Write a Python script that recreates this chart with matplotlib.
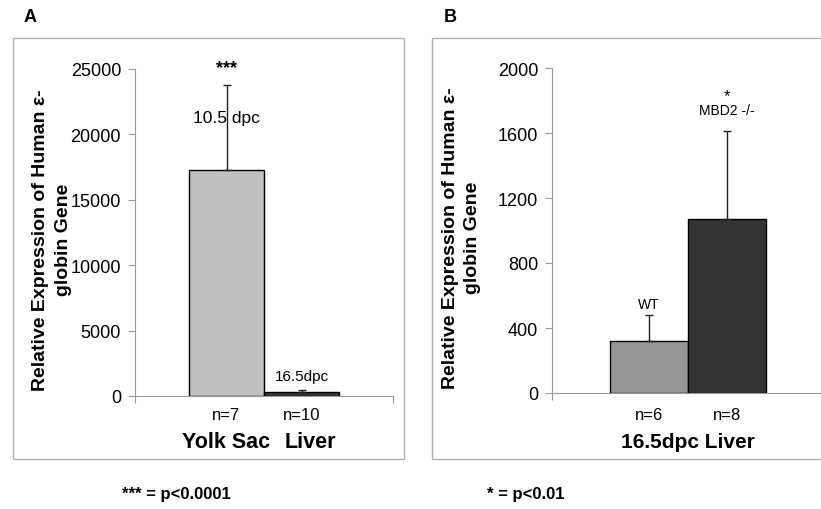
# Expresion relativa de epsilon-globina humana, paneles A y B
import matplotlib.pyplot as plt
from matplotlib.patches import Rectangle

plt.rcParams['font.family'] = ['Liberation Sans', 'DejaVu Sans']

# Datos panel A
cat_a = ["Yolk Sac", "Liver"]
n_a = ["n=7", "n=10"]
etiq_a = ["10.5 dpc", "16.5dpc"]
vals_a = [17300, 280]
err_a = [6500, 200]
col_a = ["#c0c0c0", "#333333"]

# Datos panel B
n_b = ["n=6", "n=8"]
etiq_b = ["WT", "MBD2 -/-"]
vals_b = [320, 1070]
err_b = [160, 540]
col_b = ["#969696", "#333333"]

W, H = 821, 510
fig = plt.figure(figsize=(W / 100, H / 100), dpi=100)

def px(x0, y0, x1, y1):
    # caja en pixeles -> fracciones de figura
    return [x0 / W, 1 - y1 / H, (x1 - x0) / W, (y1 - y0) / H]

# marcos de los paneles
for x0, x1 in [(13, 404), (432, 840)]:
    fig.patches.append(Rectangle((x0 / W, 1 - 460 / H), (x1 - x0) / W, 421 / H,
                                 transform=fig.transFigure, fill=False,
                                 edgecolor="#b0b0b0", lw=1))

def estilo(ax, ymax, step, half, lx):
    ax.set_ylim(0, ymax)
    ax.set_yticks(range(0, ymax + 1, step))
    ax.set_xlim(0.5 - half, 0.5 + half)
    ax.set_xticks([0.5 - half, 0.5 + half])
    ax.set_xticklabels([])
    for s in ["top", "right"]:
        ax.spines[s].set_visible(False)
    for s in ["left", "bottom"]:
        ax.spines[s].set_color("#999999")
    ax.tick_params(axis="y", colors="#999999", labelcolor="black", labelsize=13,
                   length=5, pad=5)
    ax.tick_params(axis="x", colors="#999999", length=5)
    ax.set_ylabel("Relative Expression of Human ε-\nglobin Gene", fontsize=14,
                  fontweight="bold", linespacing=1.4)
    ax.yaxis.label.set_verticalalignment("center")
    ax.yaxis.set_label_coords(lx, 0.48)

# Panel A
ax1 = fig.add_axes(px(135, 70, 393, 397))
x = [0, 1]
ax1.bar(x, vals_a, width=1, color=col_a, edgecolor="black", lw=1)
ax1.errorbar(x, vals_a, yerr=[[0, 0], err_a], fmt="none", ecolor="#222222",
             capsize=3, elinewidth=1)
estilo(ax1, 25000, 5000, 1.72, -0.322)
ax1.text(0, 25100, "***", ha="center", va="center", fontsize=13, fontweight="bold")
ax1.text(0, 21300, etiq_a[0], ha="center", va="center", fontsize=12.5)
ax1.text(1, 1500, etiq_a[1], ha="center", va="center", fontsize=11)
for i in x:
    ax1.text(i, -1400, n_a[i], ha="center", va="center", fontsize=12)
    ax1.text(i + 0.12 * i, -3500, cat_a[i], ha="center", va="center", fontsize=15.5,
             fontweight="bold")

# Panel B
ax2 = fig.add_axes(px(552, 69, 824, 394))
ax2.bar(x, vals_b, width=1, color=col_b, edgecolor="black", lw=1)
ax2.errorbar(x, vals_b, yerr=[[0, 0], err_b], fmt="none", ecolor="#222222",
             capsize=3, elinewidth=1)
estilo(ax2, 2000, 400, 1.74, -0.333)
ax2.text(1, 1830, "*", ha="center", va="center", fontsize=12)
ax2.text(1, 1740, etiq_b[1], ha="center", va="center", fontsize=10)
ax2.text(0, 545, etiq_b[0], ha="center", va="center", fontsize=10)
for i in x:
    ax2.text(i, -130, n_b[i], ha="center", va="center", fontsize=12)
ax2.text(0.5, -300, "16.5dpc Liver", ha="center", va="center", fontsize=15,
         fontweight="bold")

# letras de panel y notas
fig.text(30 / W, 1 - 18 / H, "A", fontsize=13, fontweight="bold", ha="center", va="center")
fig.text(450 / W, 1 - 18 / H, "B", fontsize=13, fontweight="bold", ha="center", va="center")
fig.text(122 / W, 1 - 495 / H, "*** = p<0.0001", fontsize=12, fontweight="bold", va="center")
fig.text(487 / W, 1 - 495 / H, "* = p<0.01", fontsize=12, fontweight="bold", va="center")

fig.savefig("out.png", dpi=100)
